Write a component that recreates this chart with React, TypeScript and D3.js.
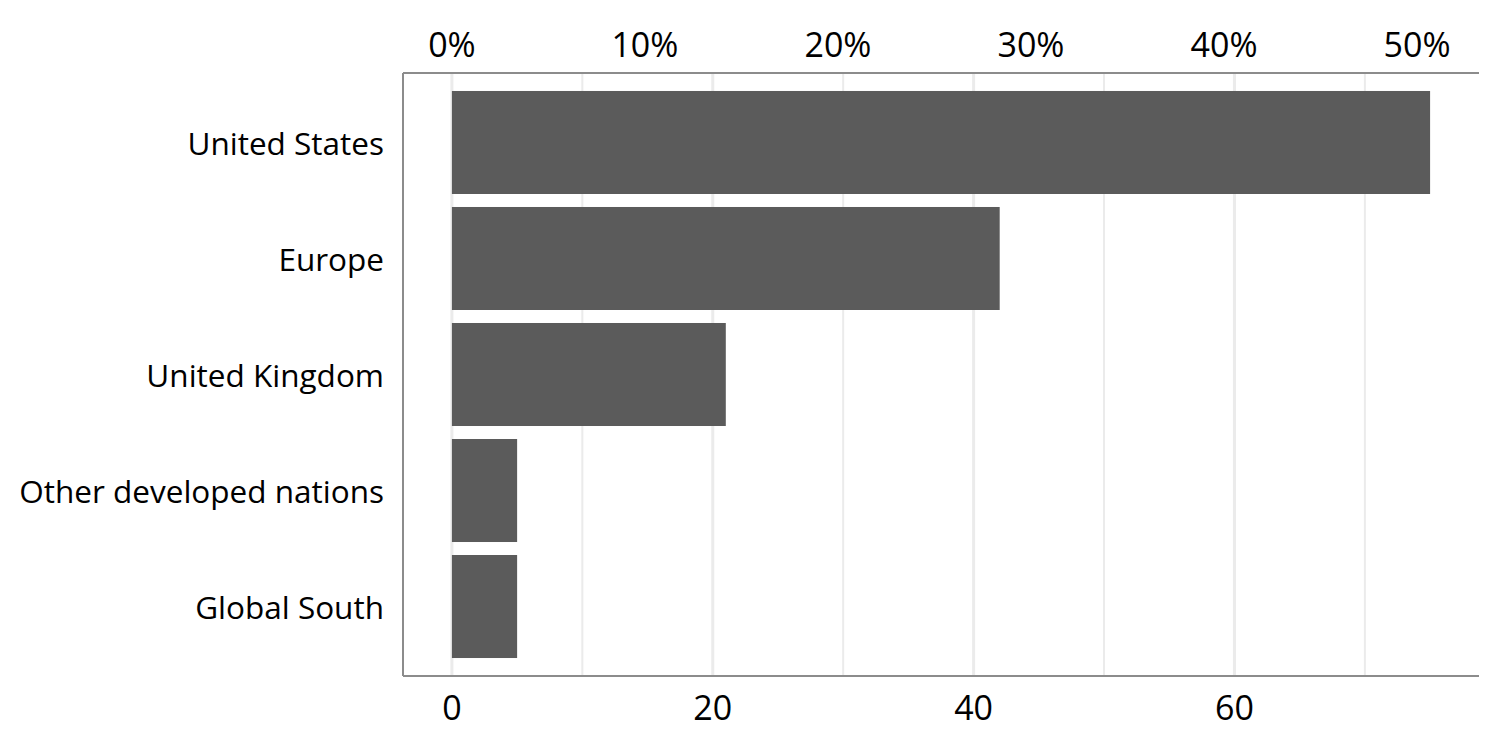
import React from "react";
import * as d3 from "d3";

const categories = ["United States", "Europe", "United Kingdom", "Other developed nations", "Global South"];
const values = [75, 42, 21, 5, 5];
const bottomTicks = [0, 20, 40, 60];
const gridTicks = [0, 10, 20, 30, 40, 50, 60, 70];
const topTicks = [0, 0.1, 0.2, 0.3, 0.4, 0.5];

const W = 1500;
const H = 750;
const M = { left: 403, right: 1479, top: 73, bottom: 676 };
const FONT = "'Open Sans', sans-serif";

export default function App() {
  const maxV = d3.max(values) as number;
  const total = d3.sum(values);
  const x = d3.scaleLinear().domain([-maxV * 0.05, maxV * 1.05]).range([M.left, M.right]);
  const xPct = d3.scaleLinear().domain(x.domain().map((d) => d / total)).range([M.left, M.right]);
  const y = d3
    .scaleBand<string>()
    .domain(categories)
    .range([M.top, M.bottom])
    .paddingInner(0.112)
    .paddingOuter(0.155);
  const fmt = d3.format(".0%");
  return (
    <svg width={W} height={H} style={{ position: "absolute", left: 0, top: 0, background: "#fff" }}>
      {gridTicks.map((t) => (
        <line
          key={"g" + t}
          x1={x(t)}
          x2={x(t)}
          y1={M.top}
          y2={M.bottom}
          stroke="#ebebeb"
          strokeWidth={t % 20 === 0 ? 3 : 2}
        />
      ))}
      {categories.map((c, i) => (
        <rect key={c} x={x(0)} y={y(c)} width={x(values[i]) - x(0)} height={y.bandwidth()} fill="#5b5b5b" />
      ))}
      <line x1={M.left} x2={M.right} y1={M.top} y2={M.top} stroke="#8c8c8c" strokeWidth={2} />
      <line x1={M.left} x2={M.right} y1={M.bottom} y2={M.bottom} stroke="#8c8c8c" strokeWidth={2} />
      <line x1={M.left} x2={M.left} y1={M.top} y2={M.bottom} stroke="#8c8c8c" strokeWidth={2} />
      {categories.map((c) => (
        <text
          key={"l" + c}
          x={M.left - 19}
          y={(y(c) as number) + y.bandwidth() / 2}
          textAnchor="end"
          dominantBaseline="central"
          fontFamily={FONT}
          fontSize={31.5}
          fill="#000"
        >
          {c}
        </text>
      ))}
      {bottomTicks.map((t) => (
        <text
          key={"b" + t}
          x={x(t)}
          y={707}
          textAnchor="middle"
          dominantBaseline="central"
          fontFamily={FONT}
          fontSize={34}
          fill="#000"
        >
          {t}
        </text>
      ))}
      {topTicks.map((t) => (
        <text
          key={"t" + t}
          x={xPct(t)}
          y={44}
          textAnchor="middle"
          dominantBaseline="central"
          fontFamily={FONT}
          fontSize={34}
          fill="#000"
        >
          {fmt(t)}
        </text>
      ))}
    </svg>
  );
}
